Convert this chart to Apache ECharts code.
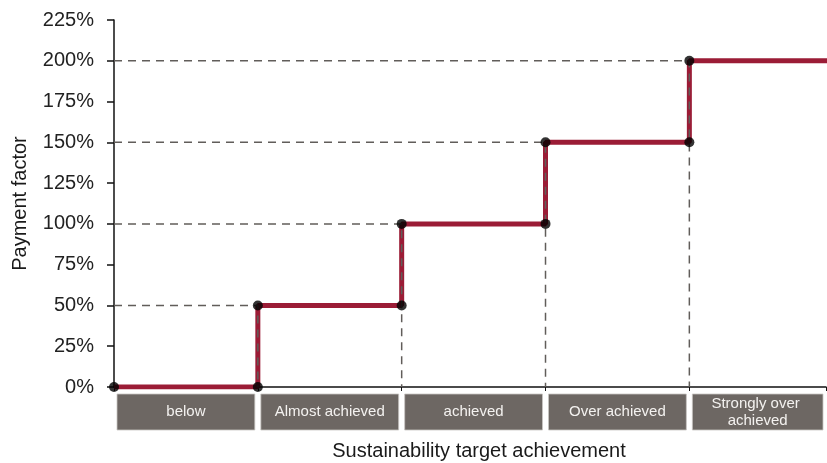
<!DOCTYPE html>
<html>
<head>
<meta charset="utf-8">
<script src="https://cdn.jsdelivr.net/npm/echarts@6/dist/echarts.min.js"></script>
<style>html,body{margin:0;padding:0;background:#fff}#c{width:827px;height:463px}</style>
</head>
<body>
<div id="c"></div>
<script>
const categories = ['below', 'Almost achieved', 'achieved', 'Over achieved', 'Strongly over achieved'];
const levels = [0, 50, 100, 150, 200];
const thresholds = [1, 2, 3, 4];
const yTickMax = 225;
const yTickStep = 25;

const FONT = '"Liberation Sans", Arial, sans-serif';
const RED = '#9b1c36';

// step line from levels
const stepPts = [];
levels.forEach((v, i) => { stepPts.push([i, v]); stepPts.push([i + 1, v]); });
// corner dots
const dots = [];
levels.forEach((v, i) => { dots.push([i, v]); if (i < levels.length - 1) dots.push([i + 1, v]); });
// dashed guide lines
const guides = thresholds.map(t => ({
  type: 'line', silent: true, symbol: 'none', z: 4,
  lineStyle: { color: '#615d5a', width: 1.5, type: [8, 6] },
  data: [[0, levels[t]], [t, levels[t]], [t, 0]]
}));

const chart = echarts.init(document.getElementById('c'), null, { renderer: 'canvas' });
chart.setOption({
  animation: false,
  backgroundColor: '#fff',
  grid: { left: 114, right: 1, top: 20, bottom: 76, containLabel: false, outerBoundsMode: 'none' },
  xAxis: {
    type: 'value', min: 0, max: 4.95, interval: 1,
    name: 'Sustainability target achievement', nameLocation: 'middle', nameGap: 54,
    nameTextStyle: { fontFamily: FONT, fontSize: 20, color: '#1a1a1a', letterSpacing: 1.3, padding: [0, 0, 0, 18] },
    axisLine: { lineStyle: { color: '#111', width: 1.5 } },
    axisTick: { show: true, length: 4, lineStyle: { color: '#111', width: 1 } },
    axisLabel: { show: false },
    splitLine: { show: false }
  },
  yAxis: {
    type: 'value', min: 0, max: yTickMax, interval: yTickStep,
    name: 'Payment factor', nameLocation: 'middle', nameGap: 84, nameRotate: 90,
    nameTextStyle: { fontFamily: FONT, fontSize: 20, color: '#1a1a1a', letterSpacing: 1.5 },
    axisLine: { show: true, lineStyle: { color: '#111', width: 1.5 } },
    axisTick: { show: true, length: 7, lineStyle: { color: '#111', width: 1.5 } },
    axisLabel: { formatter: '{value}%', fontFamily: FONT, fontSize: 20, color: '#222', margin: 20, letterSpacing: 1 },
    splitLine: { show: false }
  },
  series: [
    {
      type: 'line', z: 3, symbol: 'none', clip: true,
      lineStyle: { color: RED, width: 5 },
      data: stepPts
    },
    ...guides,
    {
      type: 'scatter', z: 6, symbol: 'circle', symbolSize: 10,
      itemStyle: { color: '#000' },
      data: dots
    },
    {
      type: 'custom', z: 2, clip: false,
      data: categories.map((c, i) => [i, c]),
      encode: { x: 0 },
      renderItem: function (params, api) {
        const i = api.value(0);
        const cs = params.coordSys;
        const s = api.coord([i, 0]);
        const e = api.coord([i + 1, 0]);
        const x0 = s[0] + 3;
        const x1 = Math.min(e[0], cs.x + cs.width) - 3;
        const y0 = s[1] + 7;
        const h = 36;
        return {
          type: 'group',
          children: [
            { type: 'rect', shape: { x: x0, y: y0, width: x1 - x0, height: h },
              style: { fill: '#6d6763', stroke: '#c9c6c3', lineWidth: 0.8 } },
            { type: 'text', style: {
                text: categories[i], x: (x0 + x1) / 2, y: y0 + h / 2,
                align: 'center', verticalAlign: 'middle', fill: '#f4f2f0',
                fontFamily: FONT, fontSize: 15, lineHeight: 17, letterSpacing: 0.5, width: 112, overflow: 'break'
              } }
          ]
        };
      }
    }
  ]
});
</script>
</body>
</html>
